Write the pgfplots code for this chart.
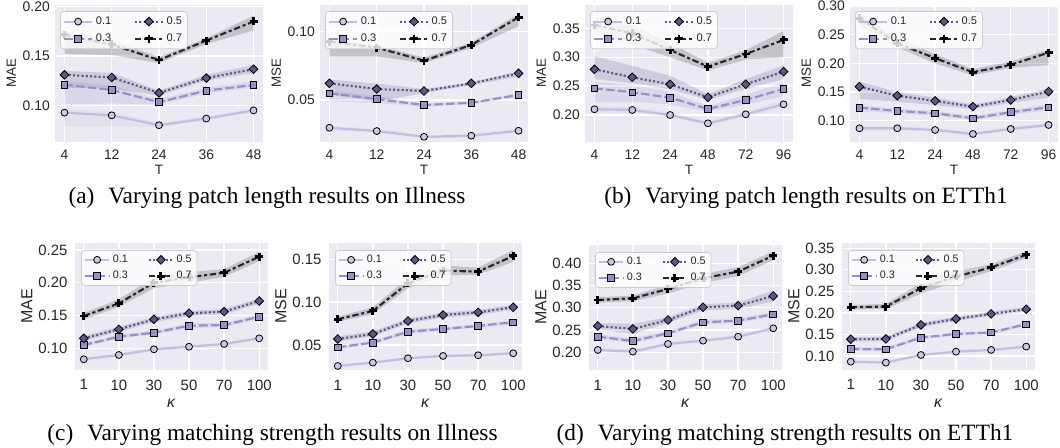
\documentclass[border=0pt]{standalone}
\usepackage{fontspec}
\setmainfont{Liberation Sans}
\newfontfamily\capfont{Liberation Serif}
\usepackage{pgfplots}
\usepgfplotslibrary{fillbetween}
\pgfplotsset{compat=1.18}
\usepackage{pgfplotstable}

\definecolor{bgc}{HTML}{EAEAF2}
\definecolor{c1}{RGB}{192,190,225}
\definecolor{c2}{RGB}{150,143,200}
\definecolor{c3}{RGB}{93,88,138}
\definecolor{c4}{RGB}{40,40,40}
\definecolor{lgframe}{RGB}{204,204,204}
\definecolor{txt}{HTML}{262626}

% Illness MAE vs T
\pgfplotstableread{
x a alo ahi b blo bhi c clo chi d dlo dhi
0 0.0927 0.079 0.096 0.121 0.101 0.125 0.131 0.118 0.135 0.1717 0.152 0.175
1 0.090 0.079 0.094 0.1157 0.102 0.120 0.1283 0.117 0.133 0.1617 0.151 0.166
2 0.080 0.078 0.082 0.1033 0.101 0.106 0.1127 0.110 0.115 0.146 0.143 0.149
3 0.0867 0.085 0.089 0.115 0.112 0.118 0.1277 0.125 0.131 0.1657 0.162 0.168
4 0.095 0.093 0.097 0.1207 0.118 0.124 0.1367 0.133 0.141 0.185 0.176 0.191
}\tabA
% Illness MSE vs T
\pgfplotstableread{
x a alo ahi b blo bhi c clo chi d dlo dhi
0 0.0297 0.028 0.031 0.0549 0.049 0.057 0.0622 0.054 0.065 0.0927 0.082 0.095
1 0.0273 0.026 0.029 0.0507 0.048 0.053 0.058 0.049 0.062 0.0883 0.082 0.090
2 0.0231 0.022 0.024 0.0463 0.045 0.0475 0.0566 0.055 0.058 0.0788 0.077 0.081
3 0.0239 0.0225 0.025 0.048 0.047 0.049 0.0622 0.061 0.063 0.0902 0.088 0.092
4 0.0275 0.026 0.029 0.0537 0.052 0.055 0.0695 0.067 0.071 0.1105 0.104 0.113
}\tabB
% ETTh1 MAE vs T
\pgfplotstableread{
x a alo ahi b blo bhi c clo chi d dlo dhi
0 0.2099 0.205 0.215 0.2462 0.222 0.258 0.279 0.262 0.302 0.3557 0.340 0.370
1 0.2087 0.204 0.214 0.2393 0.223 0.252 0.2652 0.255 0.285 0.3413 0.322 0.355
2 0.200 0.196 0.205 0.230 0.218 0.240 0.2531 0.245 0.268 0.3125 0.300 0.325
3 0.1856 0.182 0.189 0.2104 0.206 0.215 0.2306 0.226 0.236 0.2836 0.277 0.290
4 0.2012 0.197 0.206 0.226 0.218 0.235 0.2531 0.245 0.262 0.3055 0.296 0.312
5 0.2185 0.212 0.225 0.245 0.232 0.256 0.275 0.262 0.286 0.3298 0.300 0.345
}\tabC
% ETTh1 MSE vs T
\pgfplotstableread{
x a alo ahi b blo bhi c clo chi d dlo dhi
0 0.0867 0.083 0.090 0.1227 0.117 0.127 0.1593 0.138 0.168 0.2787 0.268 0.286
1 0.0867 0.083 0.090 0.1169 0.113 0.121 0.1436 0.133 0.150 0.235 0.228 0.245
2 0.0838 0.081 0.087 0.1129 0.109 0.117 0.1344 0.127 0.140 0.2089 0.200 0.216
3 0.0768 0.074 0.080 0.1042 0.101 0.108 0.1244 0.120 0.128 0.1845 0.179 0.190
4 0.0855 0.082 0.089 0.1147 0.110 0.119 0.1361 0.131 0.141 0.1972 0.192 0.203
5 0.0925 0.089 0.096 0.1234 0.118 0.128 0.1506 0.140 0.156 0.2187 0.197 0.224
}\tabD
% Illness MAE vs kappa
\pgfplotstableread{
x a alo ahi b blo bhi c clo chi d dlo dhi
0 0.0832 0.081 0.086 0.105 0.102 0.108 0.1152 0.111 0.119 0.1493 0.144 0.154
1 0.0898 0.087 0.092 0.1177 0.115 0.121 0.129 0.125 0.133 0.1686 0.163 0.175
2 0.0985 0.096 0.101 0.1238 0.121 0.127 0.1442 0.140 0.148 0.2001 0.192 0.208
3 0.1024 0.100 0.105 0.1345 0.131 0.138 0.1534 0.149 0.157 0.2083 0.200 0.216
4 0.1066 0.104 0.109 0.1355 0.132 0.139 0.1559 0.152 0.160 0.2153 0.209 0.221
5 0.1152 0.113 0.118 0.1482 0.145 0.151 0.1722 0.168 0.176 0.2397 0.233 0.247
}\tabE
% Illness MSE vs kappa
\pgfplotstableread{
x a alo ahi b blo bhi c clo chi d dlo dhi
0 0.0255 0.024 0.027 0.0473 0.045 0.049 0.057 0.054 0.060 0.080 0.077 0.083
1 0.0294 0.028 0.031 0.0527 0.051 0.055 0.0628 0.060 0.066 0.0897 0.086 0.094
2 0.0345 0.033 0.036 0.0655 0.063 0.068 0.078 0.075 0.081 0.122 0.116 0.128
3 0.0372 0.036 0.039 0.0687 0.067 0.071 0.085 0.082 0.088 0.1367 0.131 0.143
4 0.038 0.0365 0.0395 0.0722 0.070 0.074 0.0881 0.085 0.091 0.1356 0.132 0.140
5 0.0403 0.039 0.042 0.0765 0.074 0.079 0.094 0.091 0.097 0.1539 0.147 0.161
}\tabF
% ETTh1 MAE vs kappa
\pgfplotstableread{
x a alo ahi b blo bhi c clo chi d dlo dhi
0 0.2052 0.201 0.209 0.2351 0.230 0.240 0.2591 0.252 0.266 0.3175 0.311 0.324
1 0.2015 0.197 0.206 0.2254 0.220 0.231 0.2524 0.241 0.264 0.3213 0.315 0.327
2 0.2187 0.215 0.223 0.2427 0.238 0.248 0.2726 0.266 0.279 0.3422 0.332 0.352
3 0.2261 0.222 0.230 0.2674 0.262 0.273 0.3011 0.294 0.308 0.3663 0.356 0.376
4 0.2351 0.231 0.239 0.271 0.266 0.276 0.3048 0.298 0.312 0.3812 0.371 0.391
5 0.2539 0.250 0.258 0.2854 0.280 0.291 0.3265 0.314 0.339 0.4171 0.407 0.427
}\tabG
% ETTh1 MSE vs kappa
\pgfplotstableread{
x a alo ahi b blo bhi c clo chi d dlo dhi
0 0.0867 0.084 0.090 0.1163 0.112 0.120 0.1388 0.134 0.144 0.2132 0.208 0.218
1 0.0845 0.081 0.088 0.1155 0.112 0.120 0.1395 0.134 0.145 0.2147 0.209 0.221
2 0.1023 0.099 0.105 0.1426 0.139 0.147 0.1721 0.167 0.177 0.2574 0.245 0.269
3 0.110 0.107 0.113 0.1512 0.147 0.155 0.186 0.181 0.191 0.2845 0.272 0.297
4 0.114 0.111 0.117 0.1543 0.150 0.158 0.1977 0.193 0.203 0.3054 0.297 0.313
5 0.1217 0.119 0.125 0.1736 0.170 0.178 0.2085 0.203 0.214 0.3349 0.327 0.343
}\tabH

\pgfplotsset{
 s01/.style={c1, line width=1.6pt, solid, mark=*, mark size=2.6pt, mark options={solid, fill=c1!85!white, draw=black, line width=0.6pt}},
 s03/.style={c2, line width=1.6pt, dash pattern=on 6.4pt off 2.4pt, mark=square*, mark size=2.5pt, mark options={solid, fill=c2, draw=black, line width=0.6pt}},
 s05/.style={c3, line width=1.6pt, dash pattern=on 1.6pt off 1.6pt, mark=square*, mark size=2.3pt, mark options={solid, rotate=45, fill=c3, draw=black, line width=0.6pt}},
 s07/.style={c4, line width=1.6pt, dash pattern=on 4.8pt off 2pt on 2.4pt off 2pt, mark=+, mark size=3pt, mark options={solid, draw=black, line width=2.2pt}},
 myaxis/.style={scale only axis, anchor=north west, clip=false,
  axis background/.style={fill=bgc},
  axis line style={draw=none},
  major tick length=0pt,
  xmajorgrids, ymajorgrids,
  grid style={white, line width=1pt},
  scaled y ticks=false,
  tick label style={text=txt},
  label style={text=txt},
  yticklabel style={/pgf/number format/fixed, /pgf/number format/fixed zerofill, /pgf/number format/precision=2},
  /pgf/number format/assume math mode=true,
  legend columns=2, legend cell align=left,
 },
 toprow/.style={myaxis, width=156pt, height=102.75pt,
  tick label style={font=\fontsize{10.4}{12}\selectfont},
  yticklabel style={anchor=east, inner sep=0pt, xshift=-3.75pt},
  xticklabel style={anchor=north, inner sep=0pt, yshift=-5.6pt},
  xlabel={T},
  every axis x label/.style={at={(axis description cs:0.5,0)}, anchor=north, inner sep=0pt, yshift=-17.25pt, text=txt, font=\fontsize{10.2}{12}\selectfont},
  every axis y label/.style={at={(axis description cs:-0.21,0.5)}, anchor=center, rotate=90, inner sep=0pt, text=txt, font=\fontsize{10}{12}\selectfont},
  legend style={at={(0,1)}, anchor=north west, xshift=3.75pt, yshift=-4.5pt, draw=lgframe, line width=0.6pt, fill=white, fill opacity=0.8, draw opacity=1, text opacity=1, text=txt, rounded corners=2.5pt, font=\fontsize{8.3}{9}\selectfont, inner xsep=2pt, inner ysep=2pt, row sep=1.5pt, /tikz/every even column/.append style={column sep=15pt}},
  legend image code/.code={\draw[sharp corners, fill opacity=1, draw opacity=1, mark repeat=2, mark phase=2, ##1] plot coordinates {(0pt,0pt) (10.5pt,0pt) (21pt,0pt)};},
 },
 botrow/.style={myaxis, width=144.75pt, height=95.25pt,
  tick label style={font=\fontsize{11.2}{13}\selectfont},
  yticklabel style={anchor=east, inner sep=0pt, xshift=-5.5pt},
  xticklabel style={anchor=north, inner sep=0pt, yshift=-7.1pt},
  xlabel={\textit{κ}},
  every axis x label/.style={at={(axis description cs:0.5,0)}, anchor=north, inner sep=0pt, yshift=-21.4pt, text=txt, font=\fontsize{12}{14}\selectfont},
  every axis y label/.style={at={(axis description cs:-0.25,0.5)}, anchor=center, rotate=90, inner sep=0pt, text=txt, font=\fontsize{12}{14}\selectfont},
  legend style={at={(0,1)}, anchor=north west, xshift=4.5pt, yshift=-5.25pt, draw=lgframe, line width=0.6pt, fill=white, fill opacity=0.8, draw opacity=1, text opacity=1, text=txt, rounded corners=2.5pt, font=\fontsize{8.1}{9}\selectfont, inner xsep=2pt, inner ysep=1.5pt, row sep=1pt, /tikz/every even column/.append style={column sep=13pt}},
  legend image code/.code={\draw[sharp corners, fill opacity=1, draw opacity=1, mark repeat=2, mark phase=2, ##1] plot coordinates {(0pt,0pt) (9pt,0pt) (18pt,0pt)};},
 },
 Tfive/.style={xmin=-0.2, xmax=4.2, xtick={0,1,2,3,4}, xticklabels={4,12,24,36,48}},
 Tsix/.style={xmin=-0.25, xmax=5.25, xtick={0,1,2,3,4,5}, xticklabels={4,12,24,48,72,96}},
 Ksix/.style={xmin=-0.25, xmax=5.25, xtick={0,1,2,3,4,5}, xticklabels={1,10,30,50,70,100}},
}

\newcommand{\oneband}[3]{%
 \addplot[name path=#2hi, draw=none, mark=none, forget plot] table[x=x, y=#2hi]{#1};
 \addplot[name path=#2lo, draw=none, mark=none, forget plot] table[x=x, y=#2lo]{#1};
 \addplot[fill=#3, fill opacity=0.2, draw=none, forget plot] fill between[of=#2hi and #2lo];
}
\newcommand{\allseries}[1]{%
 \oneband{#1}{a}{c1}
 \oneband{#1}{b}{c2}
 \oneband{#1}{c}{c3}
 \oneband{#1}{d}{c4}
 \addplot[s01, forget plot] table[x=x, y=a]{#1};
 \addplot[s03, forget plot] table[x=x, y=b]{#1};
 \addplot[s05, forget plot] table[x=x, y=c]{#1};
 \addplot[s07, forget plot] table[x=x, y=d]{#1};
 \addlegendimage{s01}\addlegendentry{0.1}
 \addlegendimage{s05}\addlegendentry{0.5}
 \addlegendimage{s03}\addlegendentry{0.3}
 \addlegendimage{s07}\addlegendentry{0.7}
}

\begin{document}
\begin{tikzpicture}
\path (0,0) rectangle (795pt,336pt);

\begin{axis}[toprow, Tfive, at={(41.25pt,332.25pt)}, ylabel={MAE},
  ymin=0.063, ymax=0.2017, ytick={0.10,0.15,0.20}]
\allseries{\tabA}
\end{axis}

\begin{axis}[toprow, Tfive, at={(240pt,332.25pt)}, ylabel={MSE},
  ymin=0.0193, ymax=0.1195, ytick={0.05,0.10}]
\allseries{\tabB}
\end{axis}

\begin{axis}[toprow, Tsix, at={(438.75pt,332.25pt)}, ylabel={MAE},
  ymin=0.1533, ymax=0.3903, ytick={0.20,0.25,0.30,0.35}]
\allseries{\tabC}
\end{axis}

\begin{axis}[toprow, Tsix, at={(637.5pt,332.25pt)}, ylabel={MSE},
  ymin=0.0628, ymax=0.3017, ytick={0.10,0.15,0.20,0.25,0.30}]
\allseries{\tabD}
\end{axis}

\begin{axis}[botrow, Ksix, at={(56.25pt,153.75pt)}, ylabel={MAE},
  ymin=0.0669, ymax=0.2607, ytick={0.10,0.15,0.20,0.25}]
\allseries{\tabE}
\end{axis}

\begin{axis}[botrow, Ksix, at={(246.75pt,153.75pt)}, ylabel={MSE},
  ymin=0.0208, ymax=0.169, ytick={0.05,0.10,0.15}]
\allseries{\tabF}
\end{axis}

\begin{axis}[botrow, Ksix, at={(441.75pt,152.25pt)}, height=93.75pt, ylabel={MAE},
  ymin=0.1602, ymax=0.4411, ytick={0.20,0.25,0.30,0.35,0.40}]
\allseries{\tabG}
\end{axis}

\begin{axis}[botrow, Ksix, at={(631.5pt,153.75pt)}, ylabel={MSE},
  ymin=0.0674, ymax=0.3623, ytick={0.10,0.15,0.20,0.25,0.30,0.35}]
\allseries{\tabH}
\end{axis}

\node[anchor=base, inner sep=0pt, font=\capfont\fontsize{17.5}{20}\selectfont] at (200.25pt,183pt) {(a)\hspace{0.6em}Varying patch length results on Illness};
\node[anchor=base, inner sep=0pt, font=\capfont\fontsize{17.5}{20}\selectfont] at (604.5pt,183pt) {(b)\hspace{0.6em}Varying patch length results on ETTh1};
\node[anchor=base, inner sep=0pt, font=\capfont\fontsize{17.5}{20}\selectfont] at (204.4pt,5.25pt) {(c)\hspace{0.6em}Varying matching strength results on Illness};
\node[anchor=base, inner sep=0pt, font=\capfont\fontsize{17.5}{20}\selectfont] at (588.75pt,5.25pt) {(d)\hspace{0.6em}Varying matching strength results on ETTh1};
\end{tikzpicture}
\end{document}
